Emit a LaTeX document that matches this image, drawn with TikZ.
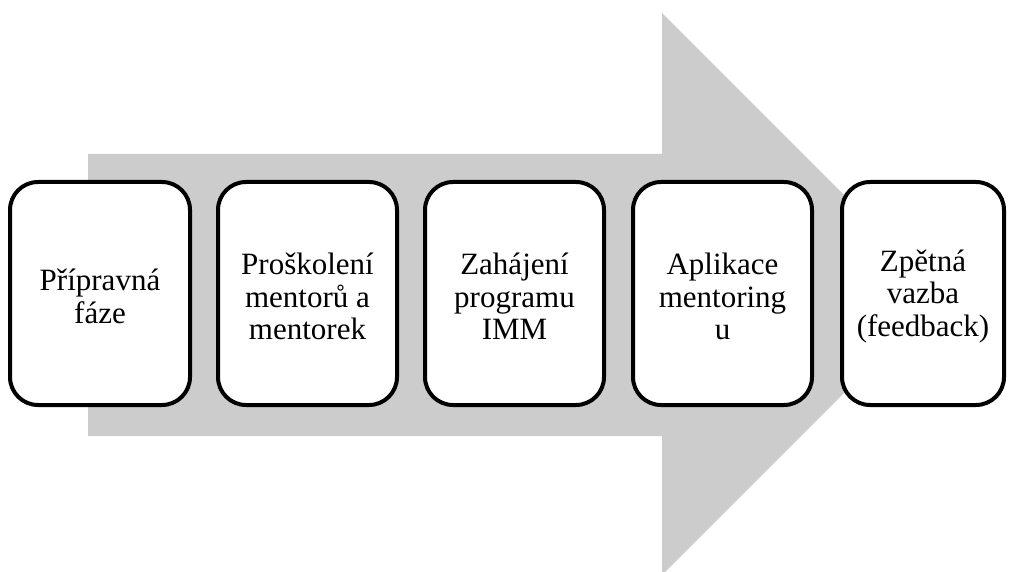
\documentclass[tikz,border=0pt]{standalone}
\usepackage{fontspec}
\setmainfont{Liberation Serif}
\definecolor{arrowgray}{RGB}{204,204,204}
\begin{document}
\begin{tikzpicture}[x=1pt,y=-1pt,
  stage/.style={draw=black, line width=4pt, fill=white, rounded corners=28pt,
    minimum height=223pt, inner sep=0pt},
  stagetext/.style={inner sep=0pt, align=center,
    font=\fontsize{31pt}{32.5pt}\selectfont}]
\useasboundingbox (0,0) rectangle (1009,572);
\fill[arrowgray] (88,154) -- (662,154) -- (662,13) -- (943,294) -- (662,575)
  -- (662,436) -- (88,436) -- cycle;
\node[stage, minimum width=180pt] (s1) at (100,293.5) {};
\node[stage, minimum width=179pt] (s2) at (307.5,293.5) {};
\node[stage, minimum width=179pt] (s3) at (514.5,293.5) {};
\node[stage, minimum width=179pt] (s4) at (722.5,293.5) {};
\node[stage, minimum width=162pt] (s5) at (923,293.5) {};
\node[stagetext] (t1) at ([yshift=-3pt]s1.center) {Přípravná\\fáze};
\node[stagetext] (t2) at ([yshift=-3pt]s2.center) {Proškolení\\mentorů a\\mentorek};
\node[stagetext] (t3) at ([yshift=-3pt]s3.center) {Zahájení\\programu\\IMM};
\node[stagetext] (t4) at ([yshift=-3pt]s4.center) {Aplikace\\mentoring\\u};
\node[stagetext] (t5) at ([yshift=-3pt]s5.center) {Zpětná\\vazba\\(feedback)};
\end{tikzpicture}
\end{document}
